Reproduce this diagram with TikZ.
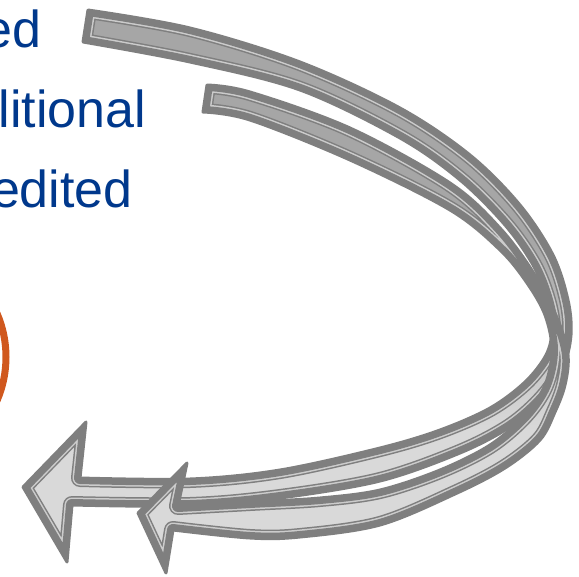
\documentclass[tikz,border=0pt]{standalone}
\usepackage{fontspec}
\setmainfont{Liberation Sans}
\definecolor{cTxt}{RGB}{0,56,140}
\definecolor{cOrange}{RGB}{208,88,30}
\definecolor{cLine}{RGB}{127,127,127}
\definecolor{cLight}{RGB}{204,204,204}
\definecolor{cTop}{RGB}{166,166,166}
\definecolor{cBot}{RGB}{217,217,217}
\tikzset{
  txt/.style={inner sep=0pt, anchor=base east, text=cTxt, font=\fontsize{39pt}{39pt}\selectfont},
  ring/.style={draw=cOrange, line width=5.25pt},
}
\def\shapeA{plot[smooth, tension=0.55] coordinates {(88,10) (190,28) (300,62) (400,108) (470,155) (520,205) (553,255) (568,300) (571,335) (563,368) (543,398) (510,427) (460,453) (380,481) (280,498) (190,506) (72,505)}
 -- (67,562) -- (23,487) -- (86,422) --
 plot[smooth, tension=0.55] coordinates {(80,478) (190,479) (280,470) (380,448) (440,430) (490,408) (525,382) (546,355) (552,330) (547,300) (533,265) (505,225) (460,180) (400,138) (300,90) (190,62) (83,42)} -- cycle}
\def\shapeB{plot[smooth, tension=0.55] coordinates {(207,85) (250,92) (350,128) (450,183) (500,228) (535,275) (558,320) (568,355) (565,385) (555,412) (540,440) (505,468) (455,494) (380,525) (300,537) (250,538) (173,530)}
 -- (166,573) -- (138,513) -- (187,463) --
 plot[smooth, tension=0.55] coordinates {(178,506) (250,502) (320,498) (380,490) (440,470) (490,445) (525,415) (545,385) (552,350) (545,315) (527,283) (500,250) (450,210) (350,160) (250,120) (203,112)} -- cycle}
\newcommand\bandlayers[1]{%
  \begin{scope}
    \clip #1;
    \fill[cTop] (0,0) rectangle (579,240);
    \shade[top color=cTop, bottom color=cBot] (0,240) rectangle (579,430);
    \fill[cBot] (0,430) rectangle (579,576);
    \draw[cLine, line width=13.5pt, line join=round] #1;
    \draw[cLight, line width=11.25pt, line join=round] #1;
    \draw[cLine, line width=9pt, line join=round] #1;
  \end{scope}
  \draw[cLine, line width=2.25pt, line join=round] #1;
}
\begin{document}
\begin{tikzpicture}[x=0.75pt, y=-0.75pt]
\useasboundingbox (0,0) rectangle (579,576);
\clip (0,0) rectangle (579,576);
\node[txt] (t1) at (42,47) {ed};
\node[txt] (t2) at (146.5,127) {litional};
\node[txt] (t3) at (133,207) {edited};
\draw[ring] (-104,357) circle[radius=110];
\bandlayers{\shapeA}
\bandlayers{\shapeB}
\end{tikzpicture}
\end{document}
